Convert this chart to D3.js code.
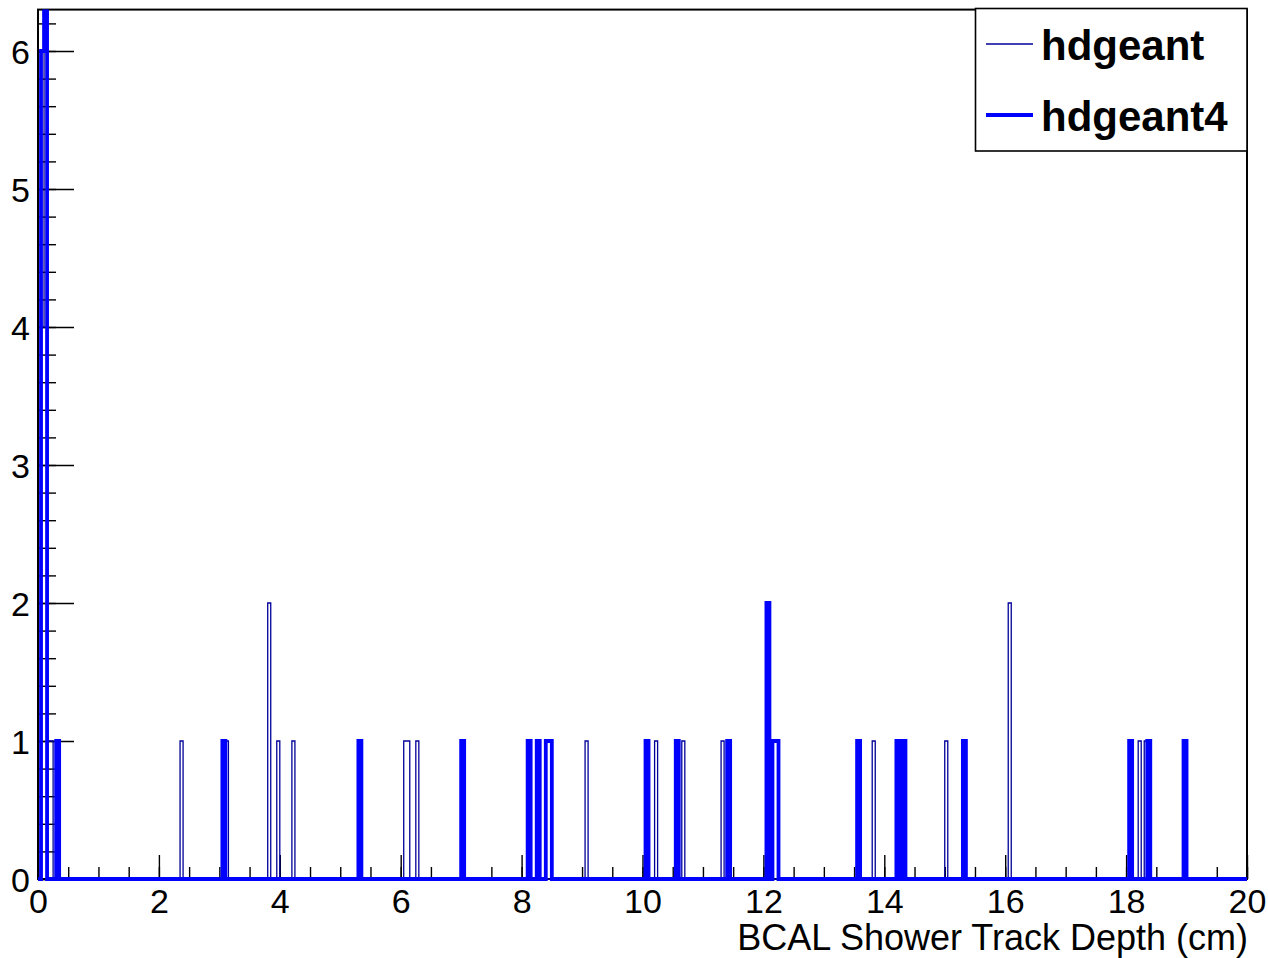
<!DOCTYPE html>
<html>
<head>
<meta charset="utf-8">
<script src="https://cdn.jsdelivr.net/npm/d3@7"></script>
<style>
  html, body { margin: 0; padding: 0; background: #fff; }
  svg { display: block; font-family: "Liberation Sans", Arial, Helvetica, sans-serif; }
</style>
</head>
<body>
<svg id="chart" width="1268" height="958"></svg>
<script>
// Histogram binning: 400 bins of 0.05 cm between 0 and 20 cm
const xMin = 0, xMax = 20, binWidth = 0.05;
const yMax = 6.3;

// hdgeant: lower edge of each non-empty bin and its count
const hdgeantBins   = [0.05, 0.10, 0.15, 0.20, 2.35, 3.10, 3.80, 3.95, 4.20, 6.05, 6.10, 6.25, 9.05, 10.20, 10.65, 11.30, 12.10, 13.80, 15.00, 16.05, 18.20, 18.30];
const hdgeantCounts = [4,    9,    1,    1,    1,    1,    2,    1,    1,    1,    1,    1,    1,    1,     1,     1,     1,     1,     1,     2,     1,     1];

// hdgeant4: lower edge of each non-empty bin and its count
const hdgeant4Bins   = [0.05, 0.10, 0.30, 3.05, 5.30, 7.00, 8.10, 8.25, 8.40, 8.45, 10.05, 10.55, 11.40, 12.05, 12.15, 12.20, 13.55, 14.20, 14.30, 15.30, 18.05, 18.35, 18.95];
const hdgeant4Counts = [6,    8,    1,    1,    1,    1,    1,    1,    1,    1,    1,     1,     1,     2,     1,     1,     1,     1,     1,     1,     1,     1,     1];

// Axis ticks
const xMajorTicks = d3.range(0, 20.001, 2);
const xMinorTicks = d3.range(0, 20.001, 0.5);
const yMajorTicks = [0, 1, 2, 3, 4, 5, 6];
const yMinorTicks = d3.range(0, 6.25, 0.2).map(v => +v.toFixed(1));

const legendLabels = ["hdgeant", "hdgeant4"];
const xTitle = "BCAL Shower Track Depth (cm)";

const svg = d3.select("#chart");
const frame = { left: 38, right: 1247, top: 9.6, bottom: 879 };

const x = d3.scaleLinear().domain([xMin, xMax]).range([frame.left, frame.right]);
const y = d3.scaleLinear().domain([0, yMax]).range([frame.bottom, frame.top]);

// Full bin array from the sparse lists, then step outline vertices
function stepPoints(bins, counts) {
  const n = Math.round((xMax - xMin) / binWidth);
  const content = new Array(n).fill(0);
  bins.forEach((b, i) => { content[Math.round((b - xMin) / binWidth)] = counts[i]; });
  const pts = [[xMin, 0]];
  content.forEach((c, i) => {
    const lo = xMin + i * binWidth, hi = lo + binWidth;
    pts.push([lo, c], [hi, c]);
  });
  pts.push([xMax, 0]);
  return pts;
}

const line = d3.line().x(d => x(d[0])).y(d => y(d[1]));

svg.append("defs").append("clipPath").attr("id", "plotClip")
  .append("rect").attr("x", 0).attr("y", frame.top).attr("width", 1268).attr("height", 958 - frame.top);

// Frame
svg.append("rect")
  .attr("x", frame.left).attr("y", frame.top)
  .attr("width", frame.right - frame.left).attr("height", frame.bottom - frame.top)
  .attr("fill", "none").attr("stroke", "#000").attr("stroke-width", 2);

// X axis: major and minor ticks pointing inward
const gxMinor = svg.append("g").attr("transform", `translate(0,${frame.bottom})`)
  .call(d3.axisBottom(x).tickValues(xMinorTicks).tickSize(-12).tickFormat(""));
const gx = svg.append("g").attr("transform", `translate(0,${frame.bottom})`)
  .call(d3.axisBottom(x).tickValues(xMajorTicks).tickSize(-24).tickPadding(10).tickFormat(d3.format("d")));

// Y axis
const gyMinor = svg.append("g").attr("transform", `translate(${frame.left},0)`)
  .call(d3.axisLeft(y).tickValues(yMinorTicks).tickSize(-18).tickFormat(""));
const gy = svg.append("g").attr("transform", `translate(${frame.left},0)`)
  .call(d3.axisLeft(y).tickValues(yMajorTicks).tickSize(-36).tickPadding(8).tickFormat(d3.format("d")));

[gxMinor, gx, gyMinor, gy].forEach(g => {
  g.select(".domain").remove();
  g.selectAll(".tick line").attr("stroke", "#000").attr("stroke-width", 1.4);
  g.selectAll("text").attr("fill", "#000").style("font-size", "34px")
    .style("font-family", "'Liberation Sans', Arial, Helvetica, sans-serif");
});
gy.selectAll("text").attr("dy", "0.36em");

// Histograms
const plot = svg.append("g").attr("clip-path", "url(#plotClip)");
plot.append("path")
  .attr("d", line(stepPoints(hdgeantBins, hdgeantCounts)))
  .attr("fill", "none").attr("stroke", "#000099").attr("stroke-width", 1.3);
plot.append("path")
  .attr("d", line(stepPoints(hdgeant4Bins, hdgeant4Counts)))
  .attr("fill", "none").attr("stroke", "#0000ff").attr("stroke-width", 3.8);

// X axis title
svg.append("text")
  .attr("x", frame.right + 1).attr("y", 950)
  .attr("text-anchor", "end")
  .style("font-size", "36px")
  .text(xTitle);

// Legend
const legend = svg.append("g");
legend.append("rect")
  .attr("x", 975.5).attr("y", 8.5).attr("width", 271.5).attr("height", 142.5)
  .attr("fill", "#fff").attr("stroke", "#000").attr("stroke-width", 1.6);
const legendStyles = [
  { color: "#000099", width: 1.3, y: 44 },
  { color: "#0000ff", width: 3.8, y: 115 }
];
legendLabels.forEach((label, i) => {
  const s = legendStyles[i];
  legend.append("line")
    .attr("x1", 986).attr("x2", 1033).attr("y1", s.y).attr("y2", s.y)
    .attr("stroke", s.color).attr("stroke-width", s.width);
  legend.append("text")
    .attr("x", 1041).attr("y", s.y + 16)
    .style("font-size", "42px").style("font-weight", "bold")
    .text(label);
});
</script>
</body>
</html>
